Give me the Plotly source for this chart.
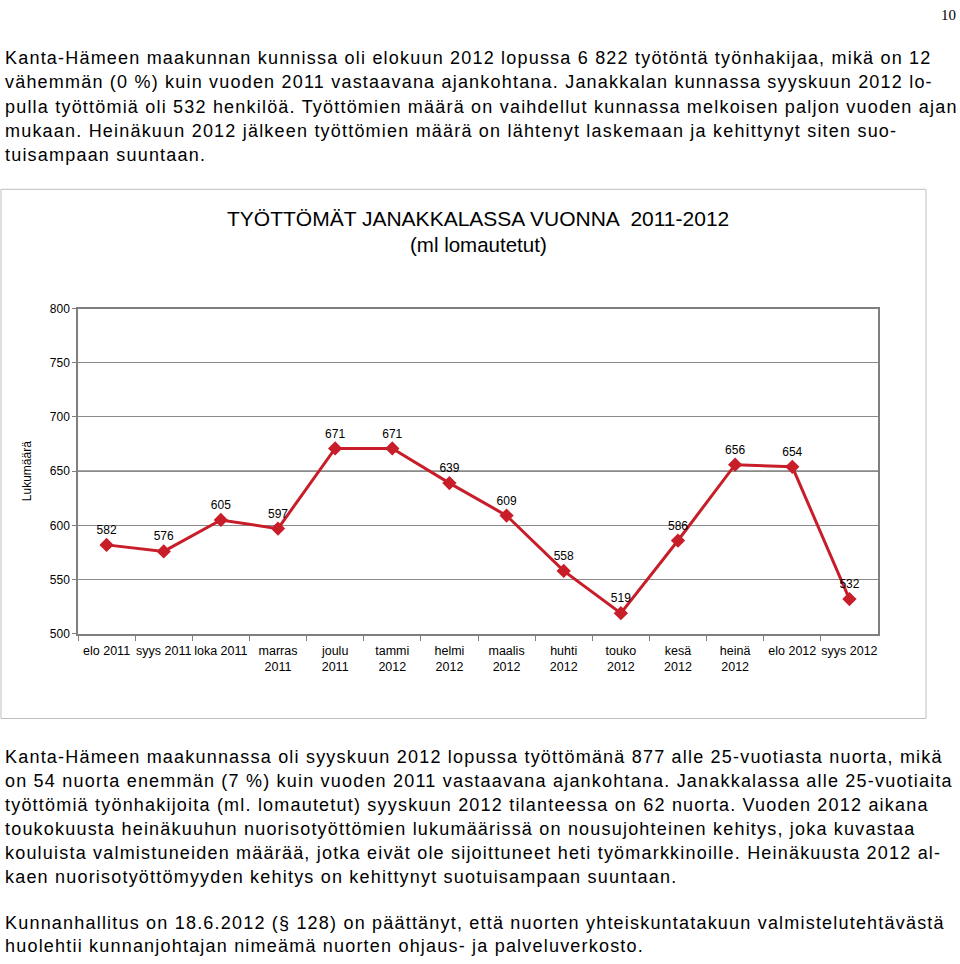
import plotly.graph_objects as go

categories = ["elo 2011", "syys 2011", "loka 2011", "marras<br>2011", "joulu<br>2011",
              "tammi<br>2012", "helmi<br>2012", "maalis<br>2012", "huhti<br>2012",
              "touko<br>2012", "kesä<br>2012", "heinä<br>2012", "elo 2012", "syys 2012"]
values = [582, 576, 605, 597, 671, 671, 639, 609, 558, 519, 586, 656, 654, 532]
dark_gridline_value = 650

top_lines = [
    "Kanta-Hämeen maakunnan kunnissa oli elokuun 2012 lopussa 6 822 työtöntä työnhakijaa, mikä on 12",
    "vähemmän (0 %) kuin vuoden 2011 vastaavana ajankohtana. Janakkalan kunnassa syyskuun 2012 lo-",
    "pulla työttömiä oli 532 henkilöä. Työttömien määrä on vaihdellut kunnassa melkoisen paljon vuoden ajan",
    "mukaan. Heinäkuun 2012 jälkeen työttömien määrä on lähtenyt laskemaan ja kehittynyt siten suo-",
    "tuisampaan suuntaan.",
]
bottom_lines = [
    "Kanta-Hämeen maakunnassa oli syyskuun 2012 lopussa työttömänä 877 alle 25-vuotiasta nuorta, mikä",
    "on 54 nuorta enemmän (7 %) kuin vuoden 2011 vastaavana ajankohtana. Janakkalassa alle 25-vuotiaita",
    "työttömiä työnhakijoita (ml. lomautetut) syyskuun 2012 tilanteessa on 62 nuorta. Vuoden 2012 aikana",
    "toukokuusta heinäkuuhun nuorisotyöttömien lukumäärissä on nousujohteinen kehitys, joka kuvastaa",
    "kouluista valmistuneiden määrää, jotka eivät ole sijoittuneet heti työmarkkinoille. Heinäkuusta 2012 al-",
    "kaen nuorisotyöttömyyden kehitys on kehittynyt suotuisampaan suuntaan.",
    "",
    "Kunnanhallitus on 18.6.2012 (§ 128) on päättänyt, että nuorten yhteiskuntatakuun valmistelutehtävästä",
    "huolehtii kunnanjohtajan nimeämä nuorten ohjaus- ja palveluverkosto.",
]
chart_title = "TYÖTTÖMÄT JANAKKALASSA VUONNA  2011-2012"
chart_subtitle = "(ml lomautetut)"
y_title = "Lukumäärä"
page_number = "10"

W, H = 960, 964
def py(y):
    return (H - y) / H

RED = "#c81e2a"

fig = go.Figure()
fig.add_trace(go.Scatter(
    x=categories, y=values, mode="lines+markers+text",
    text=[str(v) for v in values], textposition="top center",
    textfont=dict(family="Liberation Sans, Arial", size=12, color="#000000"),
    line=dict(color=RED, width=3),
    marker=dict(symbol="diamond", size=11, color=RED),
    cliponaxis=False, showlegend=False,
))

fig.update_layout(
    width=W, height=H, margin=dict(l=0, r=0, t=0, b=0),
    paper_bgcolor="white", plot_bgcolor="white",
    font=dict(family="Liberation Sans, Arial", color="#000000"),
    xaxis=dict(domain=[78 / W, 878 / W], type="category",
               showline=True, linecolor="#7f7f7f", linewidth=1.5, mirror=True,
               ticks="outside", tickson="boundaries", ticklen=5, tickcolor="#7f7f7f",
               showgrid=False, tickangle=0, ticklabelstandoff=4,
               tickfont=dict(size=12.5, color="#000000"), range=[-0.5, 13.5]),
    yaxis=dict(domain=[py(636), py(306)], range=[500, 800], dtick=50,
               showline=True, linecolor="#7f7f7f", linewidth=1.5, mirror=True,
               ticks="outside", ticklen=4, tickcolor="#7f7f7f",
               gridcolor="#8a8a8a", gridwidth=1.2,
               tickfont=dict(size=12, color="#000000"),
               title=dict(text=y_title, font=dict(size=12), standoff=16)),
)

SP = "letter-spacing:1.2px"
annotations = []
for i, line in enumerate(top_lines):
    annotations.append(dict(x=3 / W, y=py(52 + i * 24.5), xref="paper", yref="paper",
                            text=f'<span style="{SP}">{line}</span>', showarrow=False,
                            xanchor="left", yanchor="middle",
                            font=dict(family="Liberation Sans, Arial", size=18, color="#000000")))
for i, line in enumerate(bottom_lines):
    if not line:
        continue
    yy = 761 + i * 24.3 if i < 6 else 929 + (i - 7) * 23.5
    annotations.append(dict(x=3 / W, y=py(yy), xref="paper", yref="paper",
                            text=f'<span style="{SP}">{line}</span>', showarrow=False,
                            xanchor="left", yanchor="middle",
                            font=dict(family="Liberation Sans, Arial", size=18, color="#000000")))
annotations.append(dict(x=478 / W, y=py(215), xref="paper", yref="paper", text=chart_title,
                        showarrow=False, xanchor="center", yanchor="middle",
                        font=dict(family="Liberation Sans, Arial", size=21, color="#000000")))
annotations.append(dict(x=478 / W, y=py(241), xref="paper", yref="paper", text=chart_subtitle,
                        showarrow=False, xanchor="center", yanchor="middle",
                        font=dict(family="Liberation Sans, Arial", size=20.5, color="#000000")))
annotations.append(dict(x=958 / W, y=py(8), xref="paper", yref="paper", text=page_number,
                        showarrow=False, xanchor="right", yanchor="middle",
                        font=dict(family="Liberation Serif, Times New Roman", size=15, color="#000000")))
fig.update_layout(annotations=annotations)

fig.add_shape(type="rect", xref="paper", yref="paper",
              x0=1 / W, x1=926 / W, y0=py(722), y1=py(185),
              line=dict(color="#bfbfbf", width=1), fillcolor="rgba(0,0,0,0)", layer="below")
fig.add_hline(y=dark_gridline_value, line=dict(color="#000000", width=1), layer="below")

fig.write_html("out.html")
